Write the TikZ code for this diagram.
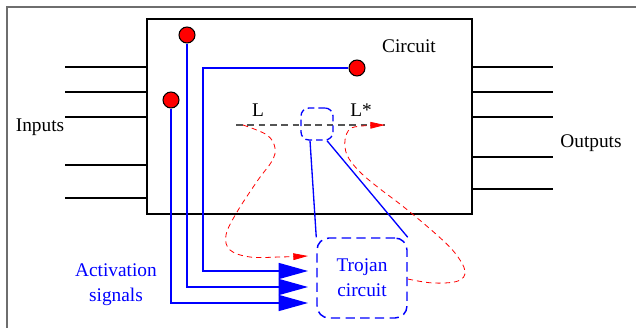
\documentclass[tikz,border=0pt]{standalone}
\usepackage{fontspec}
\setmainfont{Liberation Serif}
\usetikzlibrary{arrows.meta, positioning, calc}
\definecolor{frmgray}{HTML}{6E6E6E}
\definecolor{lgray}{HTML}{555555}
\definecolor{sigblue}{HTML}{0000FF}
\definecolor{trgred}{HTML}{FF0000}

\begin{document}
\begin{tikzpicture}[
  x=0.75pt, y=-0.75pt,
  lbl/.style={font=\fontsize{14.5}{18.5}\selectfont, inner sep=0pt, align=center},
  pin/.style={line width=1.1pt, black},
  dot/.style={circle, draw=black, line width=0.8pt, fill=trgred,
    minimum size=12pt, inner sep=0pt},
  wire/.style={line width=1pt, sigblue},
  sig/.style={wire, -{Triangle[length=22pt, width=12pt]}},
  trg/.style={trgred, line width=0.6pt, dash pattern=on 4pt off 3pt,
    -{Triangle[length=11pt, width=5pt]}},
  tbox/.style={draw=sigblue, line width=1.1pt, dash pattern=on 7pt off 4pt,
    text=sigblue, align=center, inner sep=0pt},
]

% Frame and size
\useasboundingbox (0,0) rectangle (636,328);
\draw[frmgray, line width=0.8pt] (7,328) |- (636,7);

% =============================================
% Circuit
% =============================================
\node[draw, line width=1.3pt, minimum width=243.75pt, minimum height=146.25pt]
  (circ) at (309.5,116.5) {};
\node[lbl] (circ-lbl) at (409,46) {Circuit};

% Inputs and outputs
\foreach \yy in {67,92,117,165,198}
  \draw[pin] (65,\yy) -- (circ.west |- 0,\yy);
\foreach \yy in {67,92,117,157,189}
  \draw[pin] (circ.east |- 0,\yy) -- (553,\yy);
\node[lbl] (inputs) at (40,127) {Inputs};
\node[lbl] (outputs) at (591,143) {Outputs};

% =============================================
% Line L -> L*
% =============================================
\coordinate (Lbeg) at (236,125);
\coordinate (Lend) at (385,125);
\draw[lgray, line width=0.9pt, dash pattern=on 5pt off 3.5pt] (Lbeg) -- (Lend);
\node[lbl] (L) at (258,110) {L};
\node[lbl] (Lstar) at (361,110) {L*};

% =============================================
% Trojan circuit
% =============================================
\node[tbox, rounded corners=6pt, minimum width=24pt, minimum height=24pt,
      line width=1pt, dash pattern=on 5pt off 3pt]
  (tap) at (317,124) {};
\node[tbox, lbl, rounded corners=9pt, minimum width=67.5pt, minimum height=60pt]
  (troj) at (362,278) {Trojan\\circuit};

\draw[wire] ([xshift=-5.25pt]tap.south) -- (troj.north west);
\draw[wire] ([xshift=7.5pt]tap.south) -- (troj.north east);

% =============================================
% Activation signals
% =============================================
\coordinate (a1) at (308,271);
\coordinate (a2) at (308,287);
\coordinate (a3) at (308,303);

\node[dot] (d1) at (187,35) {};
\node[dot] (d2) at (171,100) {};
\node[dot] (d3) at (357,68) {};

\draw[sig] (d3) -| (203,271) -- (a1);
\draw[sig] (d1) -- (187,287) -- (a2);
\draw[sig] (d2) -- (171,303) -- (a3);

\node[lbl, text=sigblue] (act) at (116,285) {Activation\\signals};

% Trigger paths (red, dashed)
\coordinate (tin) at (308,256);
\draw[trg] plot[smooth, tension=0.6] coordinates {(243,125) (267,135) (275,148)
  (272,161) (258,180) (237,212) (226,235) (230,250) (250,257) (280,257) (tin)};
\draw[trg] plot[smooth, tension=0.6] coordinates {(troj.east |- 0,279) (433,283)
  (458,281) (465,271) (455,253) (437,235) (405,208) (375,185) (358,170)
  (347,155) (345,140) (350,129) (362,126) (Lend)};

\end{tikzpicture}
\end{document}
